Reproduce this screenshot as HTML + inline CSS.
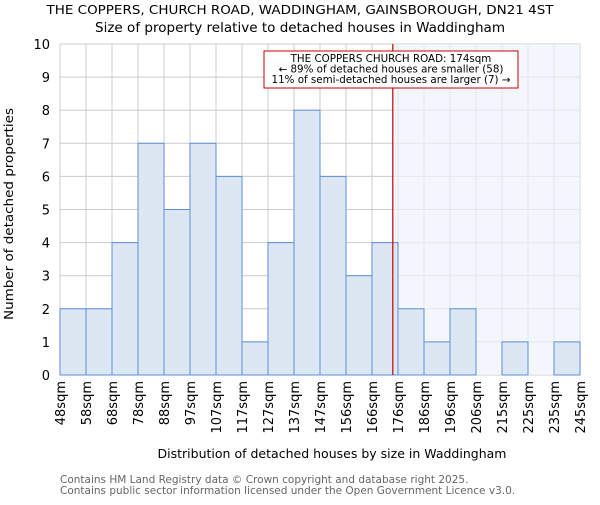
<!DOCTYPE html>
<html><head><meta charset="utf-8"><style>
body{margin:0;background:#fff;}
svg text{font-family:"DejaVu Sans","Liberation Sans",sans-serif;}
</style></head><body>
<svg id="c" width="600" height="500" xmlns="http://www.w3.org/2000/svg">
<text x="300" y="14" text-anchor="middle" font-size="12.5" textLength="507" lengthAdjust="spacingAndGlyphs">THE COPPERS, CHURCH ROAD, WADDINGHAM, GAINSBOROUGH, DN21 4ST</text>
<text x="300" y="32" text-anchor="middle" font-size="13" textLength="410" lengthAdjust="spacingAndGlyphs">Size of property relative to detached houses in Waddingham</text>
<g id="grid"></g>
<g id="shade"></g>
<g id="bars"></g>
<g id="axes"></g>
<text x="332" y="458" text-anchor="middle" font-size="12.5" textLength="349" lengthAdjust="spacingAndGlyphs">Distribution of detached houses by size in Waddingham</text>
<text transform="translate(13,214) rotate(-90)" text-anchor="middle" font-size="12.5" textLength="212" lengthAdjust="spacingAndGlyphs">Number of detached properties</text>
<text x="60" y="483" font-size="10.5" fill="#666">Contains HM Land Registry data © Crown copyright and database right 2025.</text>
<text x="60" y="494" font-size="10.5" fill="#666">Contains public sector information licensed under the Open Government Licence v3.0.</text>
</svg>
<script>
const binLabels=["48sqm","58sqm","68sqm","78sqm","88sqm","97sqm","107sqm","117sqm","127sqm","137sqm","147sqm","156sqm","166sqm","176sqm","186sqm","196sqm","206sqm","215sqm","225sqm","235sqm","245sqm"];
const counts=[2,2,4,7,5,7,6,1,4,8,6,3,4,2,1,2,0,1,0,1];
const yTicks=[0,1,2,3,4,5,6,7,8,9,10];
const markerBinPos=12.8;
const NS="http://www.w3.org/2000/svg";
const L=60,R=580,T=44,B=375,n=counts.length,bw=(R-L)/n;
const x=i=>L+i*bw, y=v=>B-(v/10)*(B-T);
function mk(p,t,a){const e=document.createElementNS(NS,t);for(const k in a)e.setAttribute(k,a[k]);p.appendChild(e);return e;}
const g=document.getElementById('grid'),sh=document.getElementById('shade'),bars=document.getElementById('bars'),ax=document.getElementById('axes');
yTicks.forEach(v=>{const l=mk(g,'line',{x1:L,x2:R,y1:y(v),y2:y(v),stroke:'#ccc','stroke-width':1});


const t=mk(ax,'text',{x:L-10,y:y(v)+5,'text-anchor':'end','font-size':13});t.textContent=v;

});
binLabels.forEach((s,i)=>{const l=mk(g,'line',{x1:x(i),x2:x(i),y1:T,y2:B,stroke:'#ccc','stroke-width':1});


const t=mk(ax,'text',{transform:`translate(${x(i)+5},381) rotate(-90)`,'text-anchor':'end','font-size':13});t.textContent=s;

});
const mx=x(markerBinPos);
const r=mk(sh,'rect',{x:mx,y:T,width:R-mx,height:B-T,fill:'#eef2fb',opacity:0.7});


counts.forEach((c,i)=>{if(!c)return;const b=mk(bars,'rect',{x:x(i),y:y(c),width:bw,height:B-y(c),fill:'#dde7f4',stroke:'#5b8fd6','stroke-width':1});

});
const ml=mk(ax,'line',{x1:mx,x2:mx,y1:T,y2:B,stroke:'#cc0000','stroke-width':1.2});


const bx=mk(ax,'rect',{x:264,y:51,width:254,height:37,fill:'#fff',stroke:'#cc0000','stroke-width':1});


["THE COPPERS CHURCH ROAD: 174sqm","← 89% of detached houses are smaller (58)","11% of semi-detached houses are larger (7) →"].forEach((s,i)=>{const t=mk(ax,'text',{x:391,y:62+i*10.5,'text-anchor':'middle','font-size':10.3});t.textContent=s;

});
</script>
</body></html>
